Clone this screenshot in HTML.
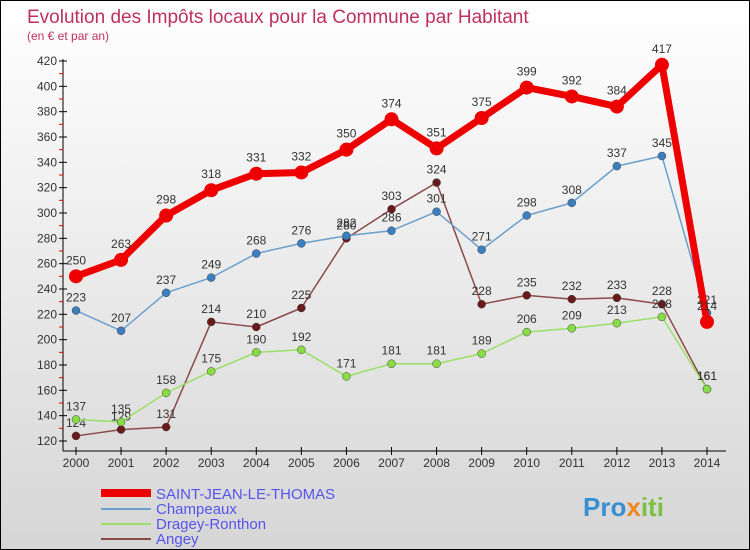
<!DOCTYPE html>
<html><head><meta charset="utf-8"><style>
body{margin:0}
#c{width:750px;height:550px;position:relative;overflow:hidden;box-sizing:border-box;border:1px solid #000;background:linear-gradient(#ffffff,#d6d6d6);font-family:"Liberation Sans",sans-serif}
</style></head><body>
<div id="c">
<svg id="s" width="750" height="550">
<text x="26" y="22" font-size="19" fill="#c0305e">Evolution des Impôts locaux pour la Commune par Habitant</text>
<text x="26" y="39" font-size="12" fill="#c0305e">(en € et par an)</text>
<g id="g"></g>
<g>
<line x1="100" y1="492" x2="150" y2="492" stroke="#ee0000" stroke-width="8"/>
<text x="155" y="498" font-size="15" fill="#5555ee">SAINT-JEAN-LE-THOMAS</text>
<line x1="100" y1="508" x2="150" y2="508" stroke="#6ca0cc" stroke-width="2"/>
<text x="155" y="513" font-size="15" fill="#5555ee">Champeaux</text>
<line x1="100" y1="523" x2="150" y2="523" stroke="#99e066" stroke-width="2"/>
<text x="155" y="528" font-size="15" fill="#5555ee">Dragey-Ronthon</text>
<line x1="100" y1="538" x2="150" y2="538" stroke="#8b4a4a" stroke-width="2"/>
<text x="155" y="543" font-size="15" fill="#5555ee">Angey</text>
</g>
<text x="582" y="515" font-size="26" font-weight="bold" fill="#3a8fd0">Pro<tspan fill="#f08a20">x</tspan><tspan fill="#7cc040">iti</tspan></text>
</svg>
</div>
<script>
const years=[2000,2001,2002,2003,2004,2005,2006,2007,2008,2009,2010,2011,2012,2013,2014];
const yTicks=[120,140,160,180,200,220,240,260,280,300,320,340,360,380,400,420];
const sjt=[250,263,298,318,331,332,350,374,351,375,399,392,384,417,214];
const champ=[223,207,237,249,268,276,282,286,301,271,298,308,337,345,221];
const dragey=[137,135,158,175,190,192,171,181,181,189,206,209,213,218,161];
const angey=[124,129,131,214,210,225,280,303,324,228,235,232,233,228,161];
const NS="http://www.w3.org/2000/svg",g=document.getElementById('g');
const X=i=>75+i*(706-75)/14, Y=v=>440-(v-120)*380/300;
function el(t,a){const e=document.createElementNS(NS,t);for(const k in a)e.setAttribute(k,a[k]);g.appendChild(e);return e;}
let e=el('line',{x1:62,y1:58,x2:62,y2:450,stroke:'#000'});


e=el('line',{x1:62,y1:450,x2:725,y2:450,stroke:'#000'});


yTicks.forEach(v=>{
 el('line',{x1:58,x2:66,y1:Y(v),y2:Y(v),stroke:'#000'});
 if(v<420) el('line',{x1:58,x2:62,y1:Y(v+10),y2:Y(v+10),stroke:'#e00'});
 const t=el('text',{x:56,y:Y(v)+4,'font-size':12,fill:'#333','text-anchor':'end'});t.textContent=v;
 
 
});
years.forEach((y,i)=>{
 el('line',{x1:X(i),x2:X(i),y1:446,y2:454,stroke:'#000'});
 const t=el('text',{x:X(i),y:466,'font-size':12,fill:'#333','text-anchor':'middle'});t.textContent=y;
 
 
});
function series(d,col,dot,w,r,name,fs){
 const p=el('polyline',{points:d.map((v,i)=>X(i)+','+Y(v)).join(' '),fill:'none',stroke:col,'stroke-width':w,'stroke-linejoin':'round'});
 
 
 d.forEach((v,i)=>{
  const c=el('circle',{cx:X(i),cy:Y(v),r:r,fill:dot,stroke:'#444','stroke-width':r>5?0:0.5});
  
  
  const t=el('text',{x:X(i),y:Y(v)-r-5,'font-size':fs,fill:'#333','text-anchor':'middle'});t.textContent=v;
  
  
 });
}
series(angey,'#8b4a4a','#6a1a1a',1.5,4,'angey',12);
series(dragey,'#99e066','#88dd44',1.5,4,'dragey',12);
series(champ,'#6ca0cc','#3b7fc0',1.5,4,'champeaux',12);
series(sjt,'#ee0000','#ee0000',7,7,'saint-jean',12);
</script>
</body></html>
